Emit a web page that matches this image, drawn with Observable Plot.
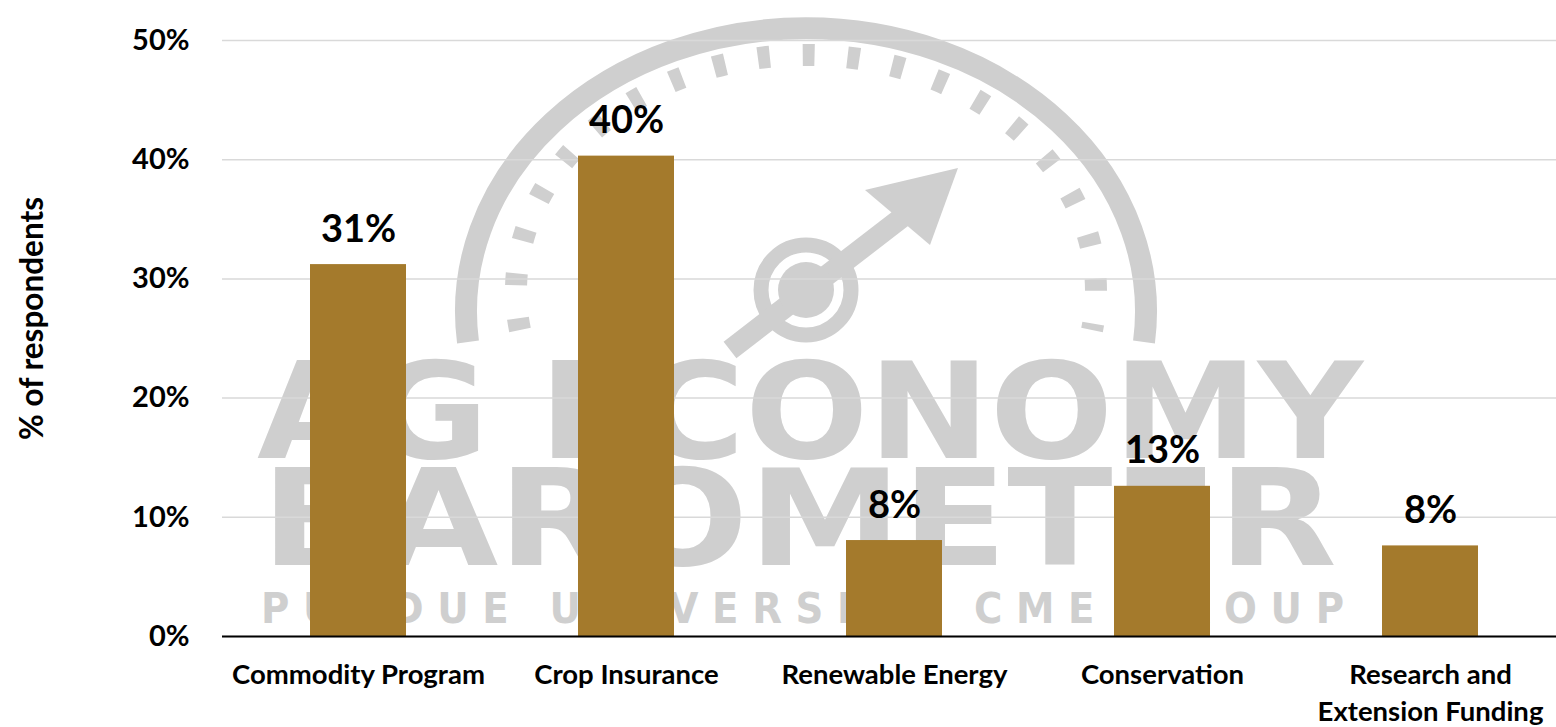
<!DOCTYPE html>
<html><head><meta charset="utf-8">
<script src="https://cdn.jsdelivr.net/npm/d3@7"></script>
<script src="https://cdn.jsdelivr.net/npm/@observablehq/plot@0.6"></script>
<style>
body{margin:0;background:#fff;}
#wrap{position:relative;width:1556px;height:727px;overflow:hidden;}
#wm{position:absolute;left:0;top:0;}
#chart{position:absolute;left:0;top:0;}
#chart svg{display:block;}
</style></head><body>
<div id="wrap">
<svg id="wm" width="1556" height="727" xmlns="http://www.w3.org/2000/svg" aria-hidden="true">
  <g fill="none" stroke="#cfcfcf">
    <path d="M468,342 A340,283 0 1,1 1144,342" stroke-width="22"/>
    <path d="M520,330 A290,236 0 1,1 1092,330" stroke-width="22" stroke-dasharray="12 33"/>
    <circle cx="806" cy="290" r="45" stroke-width="15"/>
    <line x1="730" y1="350" x2="935" y2="192" stroke-width="21"/>
  </g>
  <g fill="#cfcfcf">
    <circle cx="806" cy="290" r="28"/>
    <polygon points="958,168 865,190 930,245"/>
    <text x="257" y="458" font-family="Liberation Sans Narrow, DejaVu Sans Condensed, sans-serif" font-weight="700" font-size="134" textLength="1106" lengthAdjust="spacingAndGlyphs">AG ECONOMY</text>
    <text x="261" y="565" font-family="Liberation Sans Narrow, DejaVu Sans Condensed, sans-serif" font-weight="700" font-size="134" textLength="1076" lengthAdjust="spacingAndGlyphs">BAROMETER</text>
    <text x="261" y="623" font-family="Liberation Sans Narrow, DejaVu Sans Condensed, sans-serif" font-weight="700" font-size="43" textLength="1083" lengthAdjust="spacing">PURDUE UNIVERSITY   CME GROUP</text>
  </g>
</svg>
<div id="chart"></div>
</div>
<script>
const categories = ["Commodity Program", "Crop Insurance", "Renewable Energy", "Conservation", "Research and\nExtension Funding"];
const shares = [0.312, 0.403, 0.0805, 0.126, 0.076];
const valueLabels = ["31%", "40%", "8%", "13%", "8%"];
const yTicks = [0, 0.1, 0.2, 0.3, 0.4, 0.5];
const yTickLabels = ["0%", "10%", "20%", "30%", "40%", "50%"];
const yLabel = "% of respondents";

const data = categories.map((c, i) => ({category: c, share: shares[i], label: valueLabels[i]}));

const chart = Plot.plot({
  width: 1556,
  height: 727,
  marginLeft: 222,
  marginRight: -10,
  marginTop: 40,
  marginBottom: 91,
  style: {fontFamily: "Lato, 'Open Sans', sans-serif", fontWeight: "bold", background: "transparent", color: "#000"},
  x: {domain: categories, paddingInner: 0.643, paddingOuter: 0.3215, label: null},
  y: {domain: [0, 0.5], label: null},
  marks: [
    Plot.gridY(yTicks, {stroke: "#d9d9d9", strokeOpacity: 1, strokeWidth: 1.5}),
    Plot.barY(data, {x: "category", y: "share", fill: "#A47A2C"}),
    Plot.ruleY([0], {stroke: "#000", strokeWidth: 2}),
    Plot.text(data, {x: "category", y: "share", text: "label", dy: -23, lineAnchor: "bottom", fontSize: 38, fontWeight: "bold", fill: "#000"}),
    Plot.axisY({ticks: yTicks, tickFormat: d => yTickLabels[yTicks.indexOf(d)], tickSize: 0, tickPadding: 33, fontSize: 29, label: null}),
    Plot.text([yLabel], {frameAnchor: "left", text: d => d, rotate: -90, dx: -190, dy: -20, fontSize: 31.5, fontWeight: "bold", fill: "#000", textAnchor: "middle"}),
    Plot.axisX({tickSize: 0, tickPadding: 22, fontSize: 27.5, lineHeight: 1.33, label: null})
  ]
});
document.getElementById("chart").appendChild(chart);
</script>
</body></html>
